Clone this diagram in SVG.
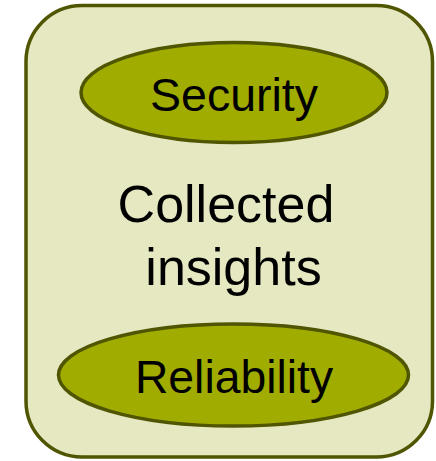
<svg xmlns="http://www.w3.org/2000/svg" width="436" height="461" viewBox="0 0 436 461">
<style>
.box{fill:#E5E8C1;stroke:#4F5500;stroke-width:3.5}
.ell{fill:#A1AC00;stroke:#4F5500;stroke-width:3.5}
text{font-family:"Liberation Sans",Arial,sans-serif;fill:#000;text-anchor:middle}
</style>
<g id="container">
<rect class="box" x="26" y="5.5" width="406.5" height="451.5" rx="56" ry="56"/>
<text x="226" y="222" font-size="52">Collected</text>
<text x="233.5" y="285" font-size="52">insights</text>
</g>
<g id="security">
<ellipse class="ell" cx="234" cy="92.5" rx="153" ry="50"/>
<text x="234" y="111" font-size="46.5">Security</text>
</g>
<g id="reliability">
<ellipse class="ell" cx="233.5" cy="375" rx="175" ry="51"/>
<text x="234" y="392.5" font-size="46.3">Reliability</text>
</g>
<g id="connectors"/>
</svg>
